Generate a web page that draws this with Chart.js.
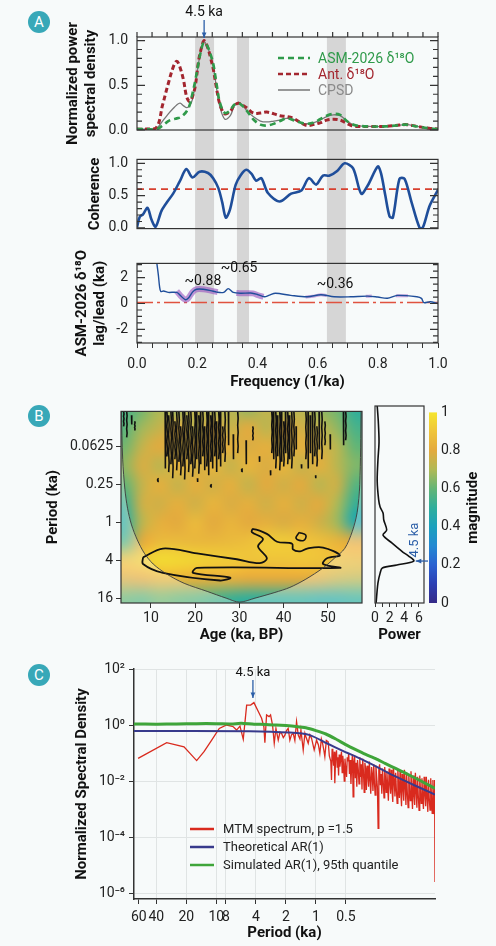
<!DOCTYPE html>
<html>
<head>
<meta charset="utf-8">
<script src="https://cdn.jsdelivr.net/npm/chart.js@4.4.1/dist/chart.umd.min.js"></script>
<style>
  body { margin: 0; width: 496px; height: 946px; background: #f7fafa; position: relative; overflow: hidden; }
  canvas { position: absolute; }
  .tag { position: absolute; width: 22px; height: 22px; border-radius: 50%; background: #38a8b8; color: #fff;
         font: 15px Roboto, sans-serif; text-align: center; line-height: 22px; }
</style>
</head>
<body>
<div class="tag" style="left:28px;top:11px">A</div>
<div class="tag" style="left:28px;top:405px">B</div>
<div class="tag" style="left:28px;top:664px">C</div>
<script>
// ---------- panel A : spectra, coherence, phase ----------
const bandLo = [0.193, 0.332, 0.631]
const bandHi = [0.256, 0.372, 0.694]
const peakFreq = 0.223

const psdFreq  = [0, 0.03, 0.065, 0.085, 0.104, 0.12, 0.132, 0.143, 0.155, 0.165, 0.175, 0.185, 0.194, 0.205, 0.215, 0.223, 0.235, 0.245, 0.254, 0.265, 0.276, 0.292, 0.31, 0.322, 0.336, 0.35, 0.364, 0.386, 0.41, 0.431, 0.455, 0.475, 0.497, 0.52, 0.545, 0.564, 0.585, 0.608, 0.63, 0.652, 0.675, 0.694, 0.712, 0.73, 0.77, 0.82, 0.86, 0.896, 0.93, 0.97, 1.0]
const psdAsm   = [0.01, 0.01, 0.01, 0.05, 0.1, 0.12, 0.13, 0.14, 0.17, 0.21, 0.28, 0.42, 0.56, 0.76, 0.92, 0.98, 0.93, 0.84, 0.73, 0.5, 0.3, 0.19, 0.22, 0.28, 0.3, 0.27, 0.22, 0.12, 0.06, 0.05, 0.07, 0.1, 0.13, 0.11, 0.08, 0.07, 0.08, 0.12, 0.16, 0.18, 0.17, 0.11, 0.07, 0.05, 0.04, 0.04, 0.05, 0.06, 0.04, 0.02, 0.01]
const psdAnt   = [0.01, 0.01, 0.03, 0.28, 0.52, 0.7, 0.77, 0.7, 0.55, 0.37, 0.32, 0.38, 0.5, 0.78, 0.93, 1.0, 0.92, 0.8, 0.67, 0.45, 0.28, 0.18, 0.21, 0.27, 0.3, 0.28, 0.25, 0.19, 0.19, 0.2, 0.18, 0.16, 0.15, 0.13, 0.08, 0.05, 0.06, 0.08, 0.11, 0.12, 0.11, 0.08, 0.05, 0.04, 0.04, 0.04, 0.05, 0.06, 0.04, 0.02, 0.01]
const psdCross = [0.01, 0.01, 0.02, 0.1, 0.18, 0.24, 0.28, 0.3, 0.27, 0.25, 0.27, 0.35, 0.52, 0.76, 0.92, 0.99, 0.92, 0.82, 0.7, 0.45, 0.25, 0.12, 0.16, 0.26, 0.31, 0.28, 0.22, 0.15, 0.1, 0.09, 0.1, 0.11, 0.13, 0.12, 0.08, 0.07, 0.08, 0.11, 0.15, 0.17, 0.16, 0.11, 0.07, 0.05, 0.04, 0.04, 0.05, 0.06, 0.04, 0.02, 0.01]

const cohFreq = [0, 0.009, 0.02, 0.035, 0.048, 0.062, 0.081, 0.1, 0.12, 0.142, 0.164, 0.184, 0.208, 0.236, 0.253, 0.27, 0.283, 0.295, 0.308, 0.328, 0.345, 0.363, 0.38, 0.396, 0.413, 0.435, 0.474, 0.512, 0.546, 0.571, 0.595, 0.618, 0.64, 0.665, 0.69, 0.718, 0.745, 0.767, 0.8, 0.811, 0.825, 0.839, 0.85, 0.872, 0.889, 0.912, 0.939, 0.95, 0.972, 1.0]
const cohVals = [0.01, 0.17, 0.21, 0.31, 0.13, 0.02, 0.26, 0.4, 0.53, 0.72, 0.91, 0.78, 0.87, 0.85, 0.77, 0.62, 0.4, 0.16, 0.27, 0.67, 0.82, 0.9, 0.84, 0.73, 0.77, 0.54, 0.41, 0.53, 0.58, 0.77, 0.67, 0.81, 0.81, 0.88, 1.0, 0.92, 0.53, 0.66, 0.95, 0.84, 0.5, 0.18, 0.16, 0.76, 0.76, 0.4, 0.0, 0.01, 0.34, 0.59]
const cohLevel = 0.6

const lagFreq = [0.066, 0.071, 0.075, 0.079, 0.088, 0.104, 0.132, 0.145, 0.16, 0.17, 0.185, 0.198, 0.22, 0.245, 0.265, 0.288, 0.303, 0.32, 0.345, 0.378, 0.4, 0.423, 0.44, 0.46, 0.511, 0.566, 0.611, 0.655, 0.71, 0.766, 0.8, 0.832, 0.865, 0.93, 0.945, 0.953, 0.974, 1.0]
const lagVals = [3.1, 2.2, 1.3, 0.93, 0.97, 0.86, 0.86, 0.6, 0.3, 0.4, 0.9, 1.1, 1.1, 1.0, 0.88, 0.86, 1.15, 0.86, 0.79, 0.81, 0.7, 0.52, 0.65, 0.79, 0.63, 0.52, 0.68, 0.52, 0.52, 0.57, 0.5, 0.41, 0.63, 0.52, 0.4, 0.07, 0.14, 0.0]
// coherent stretches, highlighted (null = gap)
const lagHiFreq = [0.132, 0.145, 0.16, 0.17, 0.185, 0.198, 0.22, 0.245, 0.268, 0.27, 0.33, 0.345, 0.365, 0.385, 0.405, 0.42]
const lagHiVals = [0.95, 0.6, 0.3, 0.4, 0.9, 1.1, 1.1, 1.0, 0.88, null, 0.82, 0.79, 0.8, 0.78, 0.62, 0.52]
const lagLoFreq = [0.56, 0.585, 0.611, 0.63, 0.64, 0.76, 0.78, 0.79, 0.86, 0.9]
const lagLoVals = [0.5, 0.56, 0.68, 0.62, null, 0.56, 0.58, null, 0.6, 0.6]
const lagZero = 0.08
const lagNotes = ['~0.88', '~0.65', '~0.36']
const lagNoteFreq = [0.219, 0.339, 0.658]
const lagNoteVal = [1.69, 2.7, 1.49]

// ---------- panel B : wavelet ----------
const heatAges = [4, 8, 12, 16, 20, 24, 28, 32, 36, 40, 44, 48, 52, 56]
const heatPeriods = [0.015625, 0.03125, 0.0625, 0.125, 0.25, 0.5, 1, 2, 4, 8, 16]
const heatMag = [
  [0.55, 0.62, 0.7, 0.66, 0.74, 0.68, 0.72, 0.66, 0.74, 0.68, 0.72, 0.66, 0.62, 0.5],
  [0.58, 0.68, 0.74, 0.8, 0.72, 0.8, 0.74, 0.8, 0.72, 0.8, 0.76, 0.74, 0.66, 0.55],
  [0.62, 0.74, 0.8, 0.76, 0.84, 0.78, 0.82, 0.78, 0.82, 0.76, 0.82, 0.76, 0.72, 0.6],
  [0.66, 0.78, 0.72, 0.84, 0.76, 0.84, 0.74, 0.84, 0.78, 0.84, 0.74, 0.82, 0.72, 0.64],
  [0.6, 0.74, 0.82, 0.74, 0.82, 0.76, 0.82, 0.74, 0.8, 0.76, 0.8, 0.72, 0.76, 0.58],
  [0.52, 0.76, 0.76, 0.82, 0.76, 0.84, 0.78, 0.82, 0.76, 0.82, 0.76, 0.8, 0.7, 0.52],
  [0.48, 0.72, 0.82, 0.8, 0.86, 0.8, 0.84, 0.8, 0.82, 0.78, 0.82, 0.76, 0.68, 0.45],
  [0.55, 0.8, 0.86, 0.86, 0.85, 0.85, 0.86, 0.88, 0.92, 0.92, 0.9, 0.88, 0.84, 0.8],
  [0.88, 0.93, 0.97, 0.96, 0.95, 0.93, 0.92, 0.9, 0.9, 0.9, 0.91, 0.9, 0.88, 0.86],
  [0.78, 0.8, 0.84, 0.84, 0.82, 0.82, 0.82, 0.8, 0.8, 0.8, 0.8, 0.78, 0.74, 0.72],
  [0.6, 0.58, 0.62, 0.6, 0.58, 0.55, 0.52, 0.5, 0.5, 0.5, 0.5, 0.48, 0.48, 0.5]
]
const coiAge    = [3.3, 3.6, 4.1, 4.7, 5.6, 6.9, 8.5, 10.5, 13.5, 17.5, 22.7, 27, 30, 33.5, 38, 41.4, 45, 48.9, 51.5, 53.8, 55.5, 56.6, 57.2, 57.5]
const coiPeriod = [0.0174, 0.1, 0.3, 0.6, 1.1, 1.9, 3.1, 4.6, 6.6, 9.3, 12.5, 16, 18.5, 16, 13, 10.8, 8, 5.3, 3.7, 2.6, 1.4, 0.7, 0.25, 0.0174]
const ridgeAge    = [8.2, 12.7, 20.4, 29.4, 34.6, 36.2, 34.2, 35.3, 32.8, 33.1, 36.2, 38.5, 41.9, 42.1, 43.7, 45.3, 48.9, 52.7, 49.8, 48.9, 52.7, 20.4, 19.5, 27.9, 25.6, 12.7, 8.2, 8.2]
const ridgePeriod = [3.6, 2.61, 3.12, 3.86, 4.45, 3.73, 2.43, 1.83, 1.43, 1.28, 1.53, 2.04, 2.19, 2.7, 2.9, 2.61, 2.52, 3.35, 3.73, 4.6, 5.3, 5.3, 6.35, 7.57, 8.4, 6.35, 4.6, 3.6]
const islandAge    = [43.5, 45, 44.5, 42.8, 43.5]
const islandPeriod = [1.45, 1.6, 1.95, 1.8, 1.45]
// short-period significance contours: [age, period from, period to]
const hfStreaks = [
  [3.8, 0.0174, 0.03], [4.5, 0.0174, 0.045], [5.6, 0.02, 0.028], [6.3, 0.025, 0.035],
  [13.2, 0.0174, 0.14], [13.6, 0.0174, 0.09], [14.0, 0.02, 0.16], [14.5, 0.0174, 0.12], [14.9, 0.0174, 0.2],
  [15.4, 0.025, 0.1], [15.8, 0.0174, 0.15], [16.3, 0.0174, 0.11], [16.7, 0.03, 0.18], [17.2, 0.0174, 0.13],
  [17.6, 0.0174, 0.21], [18.1, 0.02, 0.1], [18.5, 0.0174, 0.16], [19.0, 0.0174, 0.12], [19.4, 0.03, 0.19],
  [19.9, 0.0174, 0.14], [20.3, 0.0174, 0.1], [20.8, 0.02, 0.17], [21.2, 0.0174, 0.12], [21.7, 0.0174, 0.09],
  [22.1, 0.03, 0.15], [22.6, 0.0174, 0.13], [23.0, 0.0174, 0.18], [23.5, 0.02, 0.11], [23.9, 0.0174, 0.14],
  [24.4, 0.0174, 0.09], [24.8, 0.025, 0.16], [25.3, 0.0174, 0.1], [25.7, 0.0174, 0.13], [26.2, 0.03, 0.08],
  [26.7, 0.0174, 0.11], [27.5, 0.0174, 0.06], [28.6, 0.04, 0.1], [29.6, 0.0174, 0.08], [31.5, 0.05, 0.12],
  [33.0, 0.03, 0.05], [37.3, 0.0174, 0.08], [37.7, 0.0174, 0.1], [38.2, 0.0174, 0.14], [38.6, 0.02, 0.09],
  [39.1, 0.0174, 0.15], [39.5, 0.0174, 0.11], [40.0, 0.025, 0.13], [40.4, 0.0174, 0.08], [40.9, 0.0174, 0.12],
  [41.3, 0.02, 0.1], [41.8, 0.0174, 0.14], [42.3, 0.0174, 0.09], [42.8, 0.03, 0.07], [45.0, 0.0174, 0.1],
  [45.5, 0.0174, 0.14], [46.0, 0.02, 0.08], [46.5, 0.0174, 0.12], [47.0, 0.0174, 0.09], [47.5, 0.03, 0.13],
  [48.0, 0.0174, 0.07], [48.6, 0.0174, 0.1], [49.3, 0.025, 0.06], [50.5, 0.04, 0.07], [53.5, 0.0174, 0.06],
  [54.0, 0.0174, 0.05], [11.5, 0.2, 0.23], [20.5, 0.2, 0.23], [23.5, 0.25, 0.28], [37.0, 0.15, 0.18],
  [44.0, 0.12, 0.14], [47.2, 0.18, 0.2], [30.5, 0.14, 0.16], [34.5, 0.09, 0.11]
]
const powerPeriods = [0.0174, 0.03, 0.0625, 0.12, 0.25, 0.49, 0.63, 0.78, 1.0, 1.43, 1.71, 2.26, 3.12, 3.6, 4.3, 4.95, 5.5, 6.6, 9.4, 19]
const powerVals    = [0.3, 0.45, 0.55, 0.4, 0.3, 0.5, 0.7, 1.1, 1.2, 1.6, 1.1, 2.3, 3.8, 4.6, 5.3, 3.0, 1.0, 0.7, 0.4, 0.15]
const peakPeriod = 4.3
const ageTicks = [10, 20, 30, 40, 50]
const periodTicks = [0.0625, 0.25, 1, 4, 16]
const powerTicks = [0, 1, 2, 3, 4, 5, 6]
const cmapStops  = [0, 0.1, 0.2, 0.3, 0.4, 0.5, 0.6, 0.7, 0.8, 0.9, 1]
const cmapColors = ['#352a87', '#2c3fb3', '#2b62d1', '#2389d2', '#1ba0bd', '#2fae9c', '#63b576', '#b0b955', '#e3aa3e', '#efc43a', '#f5e52e']

// ---------- panel C : MTM spectrum (log10 frequency 1/ka, log10 PSD) ----------
const mtmLogF = [-1.785, -1.498, -1.324, -1.197, -1.123, -1.046, -0.97, -0.896, -0.85, -0.829, -0.796, -0.762, -0.729, -0.695, -0.655, -0.622, -0.578, -0.545, -0.522, -0.512, -0.495, -0.47, -0.455, -0.435, -0.418, -0.401, -0.378, -0.36, -0.344, -0.327, -0.311, -0.295, -0.278, -0.261, -0.245, -0.228, -0.211, -0.194, -0.177, -0.16, -0.15, -0.127, -0.11, -0.1, -0.077, -0.06, -0.043, -0.017, 0.007, 0.025, 0.04, 0.055, 0.067, 0.08, 0.09, 0.105, 0.124, 0.135,
  0.15, 0.157, 0.163, 0.17, 0.178, 0.185, 0.19, 0.198, 0.207, 0.214, 0.22, 0.228, 0.234, 0.241, 0.249, 0.257, 0.264, 0.27, 0.278, 0.285, 0.292, 0.3, 0.308, 0.315, 0.322, 0.33, 0.337, 0.345, 0.352, 0.36, 0.367, 0.374, 0.381, 0.389, 0.396, 0.404, 0.411, 0.418, 0.426, 0.433, 0.441, 0.448, 0.456, 0.463, 0.47, 0.478, 0.485, 0.492, 0.5, 0.507, 0.514, 0.522, 0.529, 0.537, 0.544, 0.551, 0.559, 0.566, 0.573, 0.581, 0.588, 0.595, 0.603, 0.61, 0.618, 0.625, 0.632, 0.64, 0.647, 0.654, 0.662, 0.669, 0.676, 0.684, 0.691, 0.698, 0.706, 0.713, 0.72, 0.728, 0.735, 0.742, 0.75, 0.757, 0.764, 0.772, 0.779, 0.786, 0.794, 0.801, 0.808, 0.816, 0.823, 0.83, 0.838, 0.845, 0.852, 0.86, 0.867, 0.874, 0.882, 0.889, 0.896, 0.904, 0.911, 0.918, 0.926, 0.933, 0.94, 0.948, 0.955, 0.962, 0.97, 0.977, 0.984, 0.992, 0.999, 1.006, 1.014, 1.021, 1.028, 1.036, 1.043, 1.05, 1.058, 1.065, 1.072, 1.08, 1.087, 1.094, 1.102, 1.109, 1.116, 1.124, 1.131, 1.138, 1.146, 1.153, 1.16, 1.168, 1.175, 1.182, 1.188, 1.192, 1.196]
const mtmLogP = [-1.19, -0.63, -0.78, -1.27, -0.95, -0.54, -0.12, 0.0, -0.04, -0.06, -0.18, -0.04, -0.51, 0.71, 0.71, 0.8, 0.48, 0.24, -0.06, -0.63, 0.36, 0.3, 0.36, 0.0, -0.65, -0.12, -0.54, -0.25, -0.3, -0.45, -0.36, -0.2, -0.12, -0.54, -0.35, -0.3, -0.55, 0.12, -0.36, -0.5, -0.18, -0.89, -0.3, -0.42, -0.65, -0.35, -0.48, -0.89, -0.54, -0.7, -1.01, -0.5, -0.65, -0.9, -1.13, -0.55, -0.6, -1.1,
  -1.3, -1.96, -0.85, -1.1, -1.45, -0.95, -2.08, -1.2, -0.9, -1.5, -1.15, -1.8, -1.05, -1.49, -1.25, -0.95, -1.7, -1.1, -1.4, -2.0, -1.2, -1.55, -1.85, -1.15, -1.3, -1.0, -1.75, -1.25, -2.1, -1.4, -1.05, -2.56, -1.3, -1.1, -1.9, -1.35, -2.2, -1.25, -1.6, -2.1, -1.15, -1.85, -1.4, -2.3, -1.2, -1.7, -2.4, -1.35, -1.55, -2.32, -1.45, -1.8, -2.2, -1.3, -1.95, -2.45, -1.5, -1.75, -2.35, -1.4, -2.05, -2.5, -1.45, -1.85, -2.25, -3.69, -1.6, -1.4, -2.15, -1.75, -2.45, -1.55, -2.0, -2.6, -1.5, -1.85, -2.4, -1.65, -2.15, -2.7, -1.55, -2.0, -2.45, -1.6, -2.25, -2.75, -1.5, -1.95, -2.55, -1.7, -2.3, -2.8, -1.6, -2.1, -2.6, -1.65, -2.35, -2.9, -1.75, -2.2, -2.7, -1.6, -2.1, -2.85, -1.7, -2.4, -2.95, -1.75, -2.25, -2.7, -1.65, -2.3, -3.0, -1.8, -2.45, -2.85, -1.7, -2.3, -2.95, -1.85, -2.5, -3.05, -1.8, -2.35, -2.8, -1.9, -2.55, -3.0, -1.85, -2.4, -2.9, -1.85, -2.55, -3.1, -1.95, -2.6, -3.04, -1.9, -2.45, -3.15, -1.96, -2.7, -3.16, -1.96, -5.6]
const arLogF = [-1.826, -0.662, -0.261, -0.06, 0.11, 0.27, 0.441, 0.612, 0.772, 0.983, 1.196]
const arLogP = [-0.21, -0.22, -0.27, -0.36, -0.65, -0.92, -1.19, -1.49, -1.79, -2.14, -2.48]
const simLogF = [-1.826, -1.6, -1.4, -1.2, -1.0, -0.85, -0.75, -0.62, -0.5, -0.4, -0.3, -0.2, -0.1, 0.0, 0.1, 0.2, 0.3, 0.4, 0.5, 0.6, 0.7, 0.8, 0.9, 1.0, 1.1, 1.196]
const simLogP = [0.04, 0.03, 0.04, 0.05, 0.05, 0.04, 0.06, 0.03, 0.02, 0.0, -0.02, -0.05, -0.1, -0.2, -0.32, -0.5, -0.7, -0.88, -1.05, -1.2, -1.38, -1.55, -1.72, -1.9, -2.08, -2.26]
const specPeriodTicks = [60, 40, 20, 10, 8, 4, 2, 1, 0.5]
const specExpTicks = [2, 0, -2, -4, -6]
const specPeakLogF = -0.632
const specPeakLogP = 0.89

Chart.defaults.font.family = 'Roboto, "DejaVu Sans", sans-serif'
Chart.defaults.font.size = 14
Chart.defaults.color = '#222'
Chart.defaults.animation = false
Chart.defaults.events = []
Chart.defaults.plugins.legend.display = false
Chart.defaults.plugins.tooltip.enabled = false
Chart.defaults.elements.point.radius = 0

const BOLD = { size: 15, weight: 'bold' }

function pts(xs, ys) { return xs.map((x, i) => ({ x, y: ys[i] })) }
function logPts(lx, ly) { return lx.map((x, i) => ({ x: 10 ** x, y: 10 ** ly[i] })) }

function mk(left, top, w, h) {
  const c = document.createElement('canvas')
  c.width = w; c.height = h
  c.style.left = left + 'px'; c.style.top = top + 'px'
  c.style.width = w + 'px'; c.style.height = h + 'px'
  document.body.appendChild(c)
  return c
}

function hexRgb(h) { return [1, 3, 5].map(i => parseInt(h.slice(i, i + 2), 16)) }
function cmap(v) {
  let i = 1
  while (i < cmapStops.length - 1 && v > cmapStops[i]) i++
  const t = Math.max(0, Math.min(1, (v - cmapStops[i - 1]) / (cmapStops[i] - cmapStops[i - 1])))
  const a = hexRgb(cmapColors[i - 1]), b = hexRgb(cmapColors[i])
  return a.map((c, k) => Math.round(c + (b[k] - c) * t))
}

function arrow(ctx, x0, y0, x1, y1, color) {
  const ang = Math.atan2(y1 - y0, x1 - x0)
  ctx.save()
  ctx.strokeStyle = color; ctx.fillStyle = color; ctx.lineWidth = 1.3
  ctx.beginPath(); ctx.moveTo(x0, y0); ctx.lineTo(x1, y1); ctx.stroke()
  ctx.beginPath(); ctx.moveTo(x1, y1)
  ctx.lineTo(x1 - 6 * Math.cos(ang - 0.4), y1 - 6 * Math.sin(ang - 0.4))
  ctx.lineTo(x1 - 6 * Math.cos(ang + 0.4), y1 - 6 * Math.sin(ang + 0.4))
  ctx.closePath(); ctx.fill()
  ctx.restore()
}

// grey frequency bands running through the three panel-A plots
const bandPlugin = {
  id: 'bands',
  beforeDatasetsDraw(chart, args, o) {
    const { ctx, chartArea: a, scales: { x } } = chart
    const top = o.top === 'area' ? a.top : 0
    const bot = o.bottom === 'area' ? a.bottom : chart.height
    ctx.save()
    ctx.fillStyle = '#d6d6d6'
    bandLo.forEach((lo, i) => {
      const l = x.getPixelForValue(lo), r = x.getPixelForValue(bandHi[i])
      ctx.fillRect(l, top, r - l, bot - top)
    })
    ctx.restore()
  }
}

// box around the plot plus inward ticks
const framePlugin = {
  id: 'frame',
  afterDatasetsDraw(chart, args, o) {
    const { ctx, chartArea: a, scales } = chart
    ctx.save()
    ctx.strokeStyle = '#333'; ctx.lineWidth = 1.2
    ctx.strokeRect(a.left, a.top, a.right - a.left, a.bottom - a.top)
    ctx.beginPath()
    if (o.inTicks) scales.y.ticks.forEach(t => {
      const p = scales.y.getPixelForValue(t.value), len = t.label ? 8 : 5
      ctx.moveTo(a.left, p); ctx.lineTo(a.left + len, p)
      ctx.moveTo(a.right, p); ctx.lineTo(a.right - len, p)
    })
    if (o.topStep) for (let v = 0; v <= 1.0001; v += o.topStep) {
      const p = scales.x.getPixelForValue(v)
      ctx.moveTo(p, a.top); ctx.lineTo(p, a.top - 5)
    }
    ctx.stroke()
    ctx.restore()
  }
}

function aY(min, max, step, majors, fmt, width, title) {
  return {
    type: 'linear', min, max,
    afterFit: s => { s.width = width },
    grid: { display: false, drawTicks: false }, border: { display: false },
    ticks: { stepSize: step, includeBounds: false, autoSkip: false, padding: 9, color: '#222',
      callback: v => majors.some(m => Math.abs(v - m) < 1e-6) ? fmt(v) : '' },
    title: { display: true, text: title, font: BOLD, color: '#111', padding: 0 }
  }
}
const xHidden = { type: 'linear', min: 0, max: 1, display: false }

// --- A1 : normalized PSD
new Chart(mk(0, 0, 496, 150), {
  type: 'line',
  data: { datasets: [
    { label: 'ASM-2026 δ¹⁸O', data: pts(psdFreq, psdAsm), borderColor: '#2f9a4a', borderWidth: 2.6, borderDash: [6, 4], tension: 0.35, order: 1 },
    { label: 'Ant. δ¹⁸O', data: pts(psdFreq, psdAnt), borderColor: '#a3262f', borderWidth: 3, borderDash: [5, 3], tension: 0.35, order: 2 },
    { label: 'CPSD', data: pts(psdFreq, psdCross), borderColor: '#777', borderWidth: 1.3, tension: 0.35, order: 3 }
  ] },
  options: {
    responsive: false,
    layout: { padding: { left: 64, right: 58, top: 37, bottom: 20 } },
    scales: { x: xHidden, y: aY(0, 1.04, 0.1, [0, 0.5, 1], v => v.toFixed(1), 73, ['Normalized power', 'spectral density']) },
    plugins: { bands: { top: 'area' }, frame: { inTicks: true, topStep: 0.05 } }
  },
  plugins: [bandPlugin, framePlugin, {
    id: 'psdDeco',
    afterDraw(chart) {
      const { ctx, chartArea: a, scales: { x } } = chart
      const px = x.getPixelForValue(peakFreq)
      arrow(ctx, px, a.top - 17, px, a.top + 1, '#2b5ea7')
      ctx.save()
      ctx.font = '14px Roboto'; ctx.fillStyle = '#111'; ctx.textAlign = 'center'; ctx.textBaseline = 'middle'
      ctx.fillText('4.5 ka', px, a.top - 25)
      ctx.textAlign = 'left'
      chart.data.datasets.forEach((d, i) => {
        const y = a.top + 21 + i * 16, lx = a.left + 141
        ctx.strokeStyle = d.borderColor; ctx.lineWidth = i === 2 ? 1.5 : 2.5
        ctx.setLineDash(d.borderDash || [])
        ctx.beginPath(); ctx.moveTo(lx, y); ctx.lineTo(lx + 32, y); ctx.stroke()
        ctx.fillStyle = i === 2 ? '#8a8a8a' : d.borderColor
        ctx.fillText(d.label, lx + 40, y + 1)
      })
      ctx.restore()
    }
  }]
})

// --- A2 : coherence
new Chart(mk(0, 142, 496, 104), {
  type: 'line',
  data: { datasets: [
    { data: pts(cohFreq, cohVals), borderColor: '#1f4e9a', borderWidth: 2.6, tension: 0.3 },
    { data: pts([0, 1], [cohLevel, cohLevel]), borderColor: '#d8402f', borderWidth: 1.8, borderDash: [7, 5] }
  ] },
  options: {
    responsive: false,
    layout: { padding: { left: 86, right: 58, top: 5, bottom: 9 } },
    scales: { x: xHidden, y: aY(-0.01, 1.06, 0.1, [0, 0.5, 1], v => v.toFixed(1), 51, 'Coherence') },
    plugins: { bands: {}, frame: { inTicks: true } }
  },
  plugins: [bandPlugin, framePlugin]
})

// --- A3 : lag / lead
new Chart(mk(0, 246, 496, 149), {
  type: 'line',
  data: { datasets: [
    { data: pts(lagHiFreq, lagHiVals), borderColor: 'rgba(150, 80, 190, 0.6)', borderWidth: 6, tension: 0.3, order: 2 },
    { data: pts(lagLoFreq, lagLoVals), borderColor: 'rgba(150, 80, 190, 0.5)', borderWidth: 3, tension: 0.3, order: 2 },
    { data: pts(lagFreq, lagVals), borderColor: '#1f4e9a', borderWidth: 1.4, tension: 0.3, order: 1 },
    { data: pts([0, 1], [lagZero, lagZero]), borderColor: '#e0523f', borderWidth: 1.6, borderDash: [16, 4, 3, 4], order: 3 }
  ] },
  options: {
    responsive: false,
    layout: { padding: { left: 73, right: 58, top: 6, bottom: 4 } },
    scales: {
      x: { type: 'linear', min: 0, max: 1,
        afterFit: s => { s.height = 48 },
        grid: { drawOnChartArea: false, tickLength: 5, tickColor: '#333' }, border: { display: false },
        ticks: { stepSize: 0.05, includeBounds: false, autoSkip: false, maxRotation: 0, padding: 8,
          callback: v => Math.abs(v / 0.2 - Math.round(v / 0.2)) < 1e-6 ? v.toFixed(1) : '' },
        title: { display: true, text: 'Frequency (1/ka)', font: BOLD, color: '#111', padding: { top: 0, bottom: 0 } } },
      y: aY(-3.05, 3.1, 0.5, [-2, 0, 2], v => String(Math.round(v)), 64, ['ASM-2026 δ¹⁸O', 'lag/lead (ka)'])
    },
    plugins: { bands: { bottom: 'area' }, frame: { inTicks: true } }
  },
  plugins: [bandPlugin, framePlugin, {
    id: 'lagNotes',
    afterDraw(chart) {
      const { ctx, scales: { x, y } } = chart
      ctx.save()
      ctx.font = '14px Roboto'; ctx.fillStyle = '#111'; ctx.textAlign = 'center'; ctx.textBaseline = 'middle'
      lagNotes.forEach((t, i) => ctx.fillText(t, x.getPixelForValue(lagNoteFreq[i]), y.getPixelForValue(lagNoteVal[i])))
      ctx.restore()
    }
  }]
})

// ---------- panel B ----------
const periodAxis = {
  type: 'logarithmic', min: 0.0174, max: 19.1, reverse: true,
  afterBuildTicks: s => { s.ticks = periodTicks.map(value => ({ value })) }
}

// each streak drawn as a small wiggle from its top to its bottom period
function streakPoints(list) {
  return list.flatMap(([a, p1, p2]) => {
    const out = []
    for (let k = 0; k <= 6; k++) out.push({ x: a + (k % 2) * 0.1, y: p1 * (p2 / p1) ** (k / 6) })
    out.push({ x: a, y: null })
    return out
  })
}

new Chart(mk(0, 400, 370, 250), {
  type: 'line',
  data: { datasets: [
    { data: pts(coiAge, coiPeriod), borderColor: '#3a3a3a', borderWidth: 0.9, tension: 0.3 },
    { data: pts(ridgeAge, ridgePeriod), borderColor: '#111', borderWidth: 1.8, tension: 0.35 },
    { data: pts(islandAge, islandPeriod), borderColor: '#111', borderWidth: 1.6, tension: 0.4 },
    { data: streakPoints(hfStreaks), borderColor: '#111', borderWidth: 1.6, spanGaps: false }
  ] },
  options: {
    responsive: false,
    layout: { padding: { left: 44, right: 8, top: 6, bottom: 4 } },
    scales: {
      x: { type: 'linear', min: 3.22, max: 57.7,
        afterBuildTicks: s => { s.ticks = ageTicks.map(value => ({ value })) },
        afterFit: s => { s.height = 43 },
        grid: { drawOnChartArea: false, tickLength: 5, tickColor: '#333' }, border: { display: false },
        ticks: { padding: 2, maxRotation: 0 },
        title: { display: true, text: 'Age (ka, BP)', font: BOLD, color: '#111', padding: { top: 0, bottom: 2 } } },
      y: { ...periodAxis,
        afterFit: s => { s.width = 77 },
        grid: { drawOnChartArea: false, tickLength: 5, tickColor: '#333' }, border: { display: false },
        ticks: { padding: 3, callback: v => String(v) },
        title: { display: true, text: 'Period (ka)', font: BOLD, color: '#111', padding: 0 } }
    },
    plugins: { frame: {} }
  },
  plugins: [framePlugin, {
    id: 'heat',
    beforeDatasetsDraw(chart) {
      const { ctx, chartArea: a, scales: { x, y } } = chart
      const w = heatAges.length, h = heatPeriods.length
      const off = document.createElement('canvas')
      off.width = w; off.height = h
      const octx = off.getContext('2d'), img = octx.createImageData(w, h)
      heatMag.forEach((row, i) => row.forEach((v, j) => img.data.set([...cmap(v), 255], (i * w + j) * 4)))
      octx.putImageData(img, 0, 0)
      const dA = (heatAges[1] - heatAges[0]) / 2
      const l = x.getPixelForValue(heatAges[0] - dA), r = x.getPixelForValue(heatAges[w - 1] + dA)
      const t = y.getPixelForValue(heatPeriods[0] / Math.SQRT2), b = y.getPixelForValue(heatPeriods[h - 1] * Math.SQRT2)
      ctx.save()
      ctx.beginPath(); ctx.rect(a.left, a.top, a.width, a.height); ctx.clip()
      ctx.imageSmoothingEnabled = true; ctx.imageSmoothingQuality = 'high'
      ctx.drawImage(off, l, t, r - l, b - t)
      // fade outside the cone of influence
      ctx.beginPath(); ctx.rect(a.left, a.top, a.width, a.height)
      coiAge.forEach((ag, i) => {
        const px = x.getPixelForValue(ag), py = y.getPixelForValue(coiPeriod[i])
        i ? ctx.lineTo(px, py) : ctx.moveTo(px, py)
      })
      ctx.closePath()
      ctx.fillStyle = 'rgba(255,255,255,0.3)'
      ctx.fill('evenodd')
      ctx.restore()
    }
  }]
})

// global power beside the wavelet
new Chart(mk(360, 400, 70, 250), {
  type: 'line',
  data: { datasets: [{ data: pts(powerVals, powerPeriods), borderColor: '#111', borderWidth: 1.6, tension: 0.3 }] },
  options: {
    responsive: false,
    layout: { padding: { left: 15, right: 6, top: 6, bottom: 4 } },
    scales: {
      x: { type: 'linear', min: 0, max: 6.7,
        afterBuildTicks: s => { s.ticks = powerTicks.map(value => ({ value })) },
        afterFit: s => { s.height = 43 },
        grid: { drawOnChartArea: false, tickLength: 4, tickColor: '#333' }, border: { display: false },
        ticks: { padding: 3, maxRotation: 0, autoSkip: false, callback: v => v % 2 === 0 ? String(v) : '' },
        title: { display: true, text: 'Power', font: BOLD, color: '#111', padding: { top: 0, bottom: 2 } } },
      y: { ...periodAxis, display: false }
    },
    plugins: { frame: {} }
  },
  plugins: [framePlugin, {
    id: 'powerPeak',
    afterDraw(chart) {
      const { ctx, chartArea: a, scales: { x, y } } = chart
      const py = y.getPixelForValue(peakPeriod), px = x.getPixelForValue(Math.max(...powerVals))
      arrow(ctx, a.right + 4, py, px + 2, py, '#2b5ea7')
      ctx.save()
      ctx.translate(px + 1, py - 21); ctx.rotate(-Math.PI / 2)
      ctx.font = '13px Roboto'; ctx.fillStyle = '#2b5ea7'; ctx.textAlign = 'center'; ctx.textBaseline = 'middle'
      ctx.fillText('4.5 ka', 0, 0)
      ctx.restore()
    }
  }]
})

// colour bar
new Chart(mk(425, 400, 71, 250), {
  type: 'line',
  data: { datasets: [] },
  options: {
    responsive: false,
    layout: { padding: { left: 4, right: 0, top: 4, bottom: 47 } },
    scales: {
      x: { type: 'linear', display: false },
      y: { type: 'linear', position: 'right', min: 0, max: 1,
        afterFit: s => { s.width = 59 },
        grid: { display: false, drawTicks: false }, border: { display: false },
        ticks: { stepSize: 0.2, padding: 4, callback: v => String(+v.toFixed(1)) } }
    }
  },
  plugins: [{
    id: 'cbar',
    beforeDatasetsDraw(chart) {
      const { ctx, chartArea: a } = chart
      const g = ctx.createLinearGradient(0, a.bottom, 0, a.top)
      cmapStops.forEach((s, i) => g.addColorStop(s, cmapColors[i]))
      ctx.save()
      ctx.fillStyle = g
      ctx.fillRect(a.left, a.top, a.right - a.left, a.bottom - a.top)
      ctx.translate(48, (a.top + a.bottom) / 2); ctx.rotate(-Math.PI / 2)
      ctx.font = 'bold 15px Roboto'; ctx.fillStyle = '#111'; ctx.textAlign = 'center'; ctx.textBaseline = 'middle'
      ctx.fillText('magnitude', 0, 0)
      ctx.restore()
    }
  }]
})

// ---------- panel C ----------
const SUP = { '0': '⁰', '2': '²', '4': '⁴', '6': '⁶', '-': '⁻' }
new Chart(mk(0, 650, 496, 296), {
  type: 'line',
  data: { datasets: [
    { label: 'MTM spectrum, p =1.5', data: logPts(mtmLogF, mtmLogP), borderColor: '#d92a1e', borderWidth: 1.3, order: 3 },
    { label: 'Theoretical AR(1)', data: logPts(arLogF, arLogP), borderColor: '#383a8c', borderWidth: 2, tension: 0.2, order: 1 },
    { label: 'Simulated AR(1), 95th quantile', data: logPts(simLogF, simLogP), borderColor: '#3fa53a', borderWidth: 3, tension: 0.2, order: 2 }
  ] },
  options: {
    responsive: false,
    layout: { padding: { left: 73, right: 61, top: 19, bottom: 4 } },
    scales: {
      x: { type: 'logarithmic', min: 10 ** -1.826, max: 10 ** 1.196,
        afterBuildTicks: s => { s.ticks = specPeriodTicks.map(p => ({ value: 1 / p })) },
        afterFit: s => { s.height = 43 },
        grid: { color: c => c.tick && Math.abs(1 / c.tick.value - 60) < 1 ? 'rgba(0,0,0,0)' : '#e0e4e4', tickColor: '#333', tickLength: 5 },
        border: { color: '#333', width: 1.5 },
        ticks: { autoSkip: false, maxRotation: 0, padding: 5, callback: v => String(+(1 / v).toPrecision(3)) },
        title: { display: true, text: 'Period (ka)', font: BOLD, color: '#111', padding: { top: 0, bottom: 0 } } },
      y: { type: 'logarithmic', min: 10 ** -6.21, max: 100,
        afterBuildTicks: s => { s.ticks = specExpTicks.map(e => ({ value: 10 ** e })) },
        afterFit: s => { s.width = 61 },
        grid: { color: '#e0e4e4', tickColor: '#333', tickLength: 5 },
        border: { color: '#333', width: 1.5 },
        ticks: { padding: 4, callback: v => '10' + String(Math.round(Math.log10(v))).split('').map(ch => SUP[ch]).join('') },
        title: { display: true, text: 'Normalized Spectral Density', font: BOLD, color: '#111', padding: 0 } }
    }
  },
  plugins: [{
    id: 'specDeco',
    afterDraw(chart) {
      const { ctx, chartArea: a, scales: { x, y } } = chart
      const px = x.getPixelForValue(10 ** specPeakLogF), py = y.getPixelForValue(10 ** specPeakLogP)
      arrow(ctx, px, py - 20, px, py - 2, '#2b5ea7')
      ctx.save()
      ctx.font = '13px Roboto'; ctx.fillStyle = '#111'; ctx.textAlign = 'center'; ctx.textBaseline = 'middle'
      ctx.fillText('4.5 ka', px, py - 27)
      ctx.textAlign = 'left'
      chart.data.datasets.forEach((d, i) => {
        const ly = a.top + 160 + i * 18, lx = a.left + 56
        ctx.strokeStyle = d.borderColor; ctx.lineWidth = 2.5
        ctx.beginPath(); ctx.moveTo(lx, ly); ctx.lineTo(lx + 24, ly); ctx.stroke()
        ctx.fillStyle = '#222'
        ctx.fillText(d.label, lx + 33, ly + 1)
      })
      ctx.restore()
    }
  }]
})
</script>
</body>
</html>
